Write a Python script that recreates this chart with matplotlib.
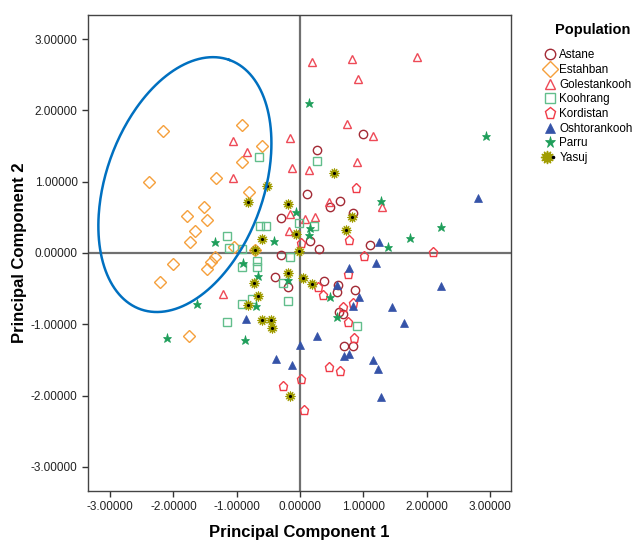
import numpy as np
import matplotlib
matplotlib.use('Agg')
import matplotlib.pyplot as plt
from matplotlib.ticker import FormatStrFormatter
from matplotlib.lines import Line2D
from matplotlib.legend_handler import HandlerTuple

plt.rcParams['font.family'] = ['Liberation Sans', 'DejaVu Sans']

# PCA scores
astane_x = [1.00, 0.27, 0.11, 0.63, 0.47, 0.84, -0.30, 0.16, 0.30, 1.11, -0.30,
            -0.39, -0.19, 0.38, 0.87, 0.58, 0.68, 0.70, 0.84, 0.60, 0.62]
astane_y = [1.67, 1.44, 0.83, 0.73, 0.65, 0.56, 0.49, 0.17, 0.06, 0.11, -0.03,
            -0.34, -0.48, -0.39, -0.52, -0.55, -0.86, -1.30, -1.30, -0.45, -0.83]

estahban_x = [-2.16, -0.92, -2.39, -0.60, -0.92, -1.33, -0.81, -1.52, -1.79, -1.47,
              -1.66, -1.74, -2.01, -2.21, -1.47, -1.41, -1.34, -1.04, -1.75, -0.71]
estahban_y = [1.71, 1.80, 1.00, 1.50, 1.28, 1.05, 0.86, 0.65, 0.52, 0.46,
              0.31, 0.15, -0.15, -0.41, -0.22, -0.13, -0.06, 0.08, -1.16, 0.04]

golestan_x = [-1.06, -0.84, -1.06, -0.16, -0.13, 0.14, 0.19, 0.82, 1.85, 0.92,
              0.74, 1.15, 0.90, 0.46, 1.30, 0.24, 0.08, -0.16, -0.17, -1.22]
golestan_y = [1.57, 1.42, 1.05, 1.61, 1.19, 1.16, 2.68, 2.72, 2.75, 2.44,
              1.81, 1.64, 1.28, 0.72, 0.65, 0.50, 0.48, 0.55, 0.31, -0.58]

koohrang_x = [-0.65, 0.27, -0.02, 0.22, -0.63, -0.54, -1.15, -1.12, -0.92, -0.68,
              -0.68, -0.92, -0.16, -0.27, -0.19, -0.92, -0.76, -1.15, 0.90]
koohrang_y = [1.35, 1.29, 0.42, 0.38, 0.38, 0.38, 0.24, 0.07, 0.06, -0.11,
              -0.20, -0.20, -0.06, -0.42, -0.67, -0.72, -0.65, -0.97, -1.02]

kordistan_x = [0.88, 0.77, 0.02, 1.01, 0.76, 0.28, 0.36, 0.68, 0.84, 0.76,
               0.85, 0.46, 0.63, 0.02, 0.06, -0.27, 2.10]
kordistan_y = [0.91, 0.18, 0.14, -0.04, -0.29, -0.48, -0.59, -0.76, -0.70, -0.97,
               -1.19, -1.60, -1.65, -1.77, -2.20, -1.87, 0.01]

oshtoran_x = [1.25, 1.20, 0.77, 0.58, 0.93, 0.84, 1.45, 1.64, 2.23, 0.27,
              0.00, 0.70, 0.77, 1.15, 1.23, -0.13, -0.38, 1.28, 2.81, -0.85]
oshtoran_y = [0.15, -0.14, -0.21, -0.45, -0.62, -0.74, -0.76, -0.98, -0.46, -1.16,
              -1.29, -1.44, -1.42, -1.50, -1.63, -1.57, -1.49, -2.02, 0.77, -0.93]

parru_x = [0.14, 2.94, 1.28, -0.06, 0.16, 0.14, 1.39, 2.23, 1.74, -0.41,
           -1.34, -0.90, -0.66, -0.19, 0.47, 0.58, -1.63, -0.70, -2.10, -0.87]
parru_y = [2.10, 1.64, 0.73, 0.58, 0.35, 0.25, 0.08, 0.36, 0.21, 0.17,
           0.15, -0.14, -0.32, -0.38, -0.62, -0.90, -0.72, -0.74, -1.19, -1.22]

yasuj_x = [0.54, -0.52, -0.82, -0.19, 0.82, 0.73, -0.06, -0.60, -0.71, -0.02,
           -0.19, -0.73, 0.05, 0.19, -0.66, -0.82, -0.60, -0.46, -0.44, -0.16]
yasuj_y = [1.12, 0.94, 0.72, 0.69, 0.50, 0.32, 0.27, 0.20, 0.04, 0.03,
           -0.28, -0.42, -0.35, -0.43, -0.60, -0.73, -0.94, -0.94, -1.05, -2.01]

ticks = [-3, -2, -1, 0, 1, 2, 3]
groups = ['Astane', 'Estahban', 'Golestankooh', 'Koohrang', 'Kordistan', 'Oshtorankooh', 'Parru', 'Yasuj']

fig = plt.figure(figsize=(6.35, 5.41), dpi=100)
ax = fig.add_axes([0.1386, 0.0924, 0.6661, 0.8799])
ax.set_xlim(-3.35, 3.33)
ax.set_ylim(-3.34, 3.34)

ax.axhline(0, color='#707070', lw=1.6, zorder=1)
ax.axvline(0, color='#707070', lw=1.6, zorder=1)

lw = 1.0
h_ast, = ax.plot(astane_x, astane_y, 'o', ms=6, mfc='none', mec='#A32A35', mew=lw)
h_est, = ax.plot(estahban_x, estahban_y, 'D', ms=6.5, mfc='none', mec='#F5A03C', mew=lw)
h_gol, = ax.plot(golestan_x, golestan_y, '^', ms=5.5, mfc='none', mec='#EE4A57', mew=lw)
h_koo, = ax.plot(koohrang_x, koohrang_y, 's', ms=6, mfc='none', mec='#62BE8C', mew=lw)
h_kor, = ax.plot(kordistan_x, kordistan_y, 'p', ms=6.5, mfc='none', mec='#F03C48', mew=lw)
h_osh, = ax.plot(oshtoran_x, oshtoran_y, '^', ms=6, mfc='#3553A8', mec='#3553A8', mew=0.5)
h_par, = ax.plot(parru_x, parru_y, '*', ms=6.5, mfc='#1E9E5A', mec='#1E9E5A', mew=0.5)
ax.plot(yasuj_x, yasuj_y, marker=(12, 1, 0), ls='none', ms=7.5, mfc='#A09C00', mec='#A09C00', mew=0.6)
ax.plot(yasuj_x, yasuj_y, '.', ms=2.5, color='black')

# ellipse around Estahban group (sized in reference pixels)
px_x, px_y = 63.3, 71.3
cx, cy = -1.82, 0.96
a, b, ang = 132.4, 78.8, np.radians(70.4)
t = np.linspace(0, 2 * np.pi, 300)
ex = cx + (a * np.cos(t) * np.cos(ang) - b * np.sin(t) * np.sin(ang)) / px_x
ey = cy + (a * np.cos(t) * np.sin(ang) + b * np.sin(t) * np.cos(ang)) / px_y
ax.plot(ex, ey, color='#0070C0', lw=1.8, zorder=5)

ax.set_xticks(ticks)
ax.set_yticks(ticks)
ax.xaxis.set_major_formatter(FormatStrFormatter('%.5f'))
ax.yaxis.set_major_formatter(FormatStrFormatter('%.5f'))
ax.tick_params(direction='out', length=4, width=1, colors='#333333', labelsize=8.5, labelcolor='#222222')
for s in ax.spines.values():
    s.set_color('#444444')
    s.set_linewidth(1.0)

ax.set_xlabel('Principal Component 1', fontsize=12, fontweight='bold', labelpad=8)
ax.set_ylabel('Principal Component 2', fontsize=12, fontweight='bold', labelpad=3)

yas_handle = (Line2D([], [], marker=(12, 1, 0), ls='none', ms=7.5, mfc='#A09C00', mec='#A09C00'),
              Line2D([], [], marker='.', ls='none', ms=2.5, color='black'))
handles = [h_ast, h_est, h_gol, h_koo, h_kor, h_osh, h_par, yas_handle]
fig.text(593 / 635, 1 - 30 / 541, 'Population', ha='center', va='center',
         fontsize=10.5, fontweight='bold')
fig.legend(handles, groups, loc='upper left', bbox_to_anchor=(0.857, 0.909),
           frameon=False, fontsize=8.4, handlelength=1.0, handletextpad=0.3,
           labelspacing=0.23, borderaxespad=0, borderpad=0, markerscale=1.25,
           handler_map={tuple: HandlerTuple(ndivide=None, pad=0)})

fig.savefig('out.png', dpi=100)
